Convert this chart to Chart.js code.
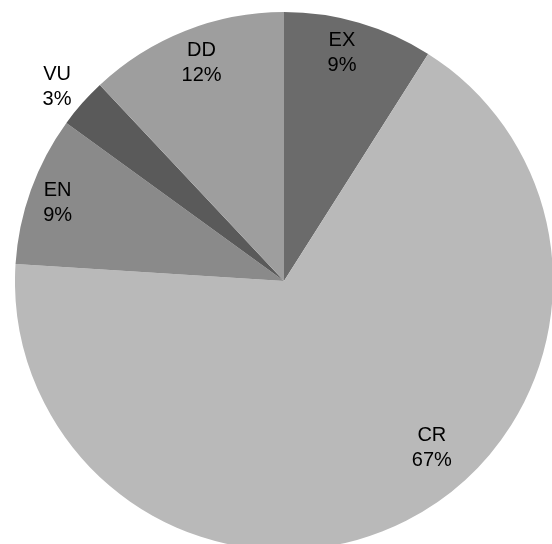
<!DOCTYPE html>
<html>
<head>
<meta charset="utf-8">
<script src="https://cdn.jsdelivr.net/npm/chart.js@4"></script>
<style>
  html, body { margin: 0; padding: 0; background: #fff; overflow: hidden; width: 552px; height: 544px; }
  #wrap { position: absolute; left: 15px; top: 12px; }
</style>
</head>
<body>
<div id="wrap"><canvas id="pie" width="538" height="538"></canvas></div>
<script>
// data (percent of species)
const categories = ['EX', 'CR', 'EN', 'VU', 'DD'];
const shares = [9, 67, 9, 3, 12];
const sliceColors = ['#6b6b6b', '#b9b9b9', '#8a8a8a', '#5a5a5a', '#9e9e9e'];

// where each label sits: r = fraction of radius, t = fraction along the slice
const labelPlace = [
    { r: 0.875, t: 0.44 },
    { r: 0.83, t: 0.44 },
    { r: 0.89, t: 0.475 },
    { r: 1.11, t: 0.42 },
    { r: 0.866, t: 0.52 }
];

const sliceLabels = {
    id: 'sliceLabels',
    afterDatasetsDraw(chart) {
        const ctx = chart.ctx;
        const meta = chart.getDatasetMeta(0);
        ctx.save();
        ctx.font = '20px "Liberation Sans", Arial, sans-serif';
        ctx.fillStyle = '#000';
        ctx.textAlign = 'center';
        ctx.textBaseline = 'middle';
        meta.data.forEach((arc, i) => {
            const p = labelPlace[i];
            const a = arc.startAngle + (arc.endAngle - arc.startAngle) * p.t;
            const r = arc.outerRadius * p.r;
            const x = arc.x + Math.cos(a) * r;
            const y = arc.y + Math.sin(a) * r;
            ctx.fillText(categories[i], x, y - 12.5);
            ctx.fillText(shares[i] + '%', x, y + 12.5);
        });
        ctx.restore();
    }
};

new Chart(document.getElementById('pie').getContext('2d'), {
    type: 'pie',
    data: {
        labels: categories,
        datasets: [{
            data: shares,
            backgroundColor: sliceColors,
            borderWidth: 0
        }]
    },
    options: {
        responsive: false,
        animation: false,
        layout: { padding: 0 },
        plugins: {
            legend: { display: false },
            tooltip: { enabled: false }
        }
    },
    plugins: [sliceLabels]
});
</script>
</body>
</html>
